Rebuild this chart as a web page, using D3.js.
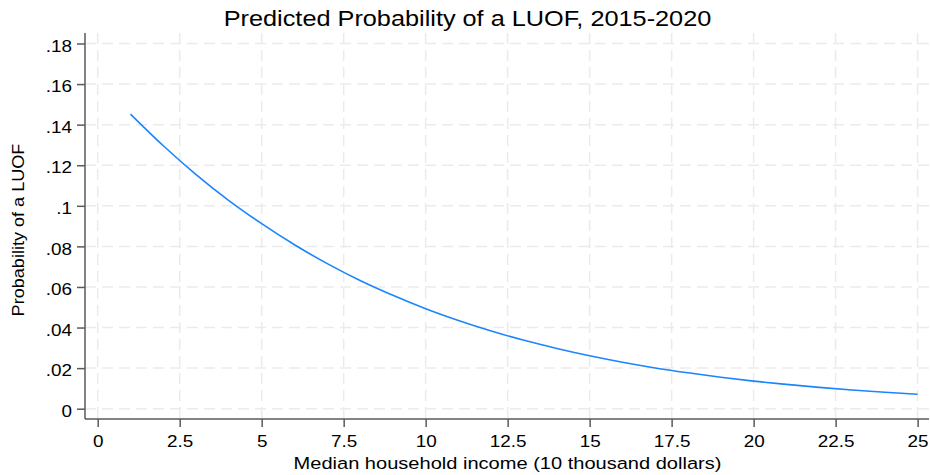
<!DOCTYPE html>
<html>
<head>
<meta charset="utf-8">
<script src="https://cdn.jsdelivr.net/npm/d3@7"></script>
<style>
  html, body { margin: 0; padding: 0; background: #fff; }
  svg { display: block; }
  text { font-family: "Liberation Sans", Arial, sans-serif; fill: #000; }
</style>
</head>
<body>
<svg id="chart" width="930" height="475"></svg>
<script>
// ---- data ----
const income = [1,2,3,4,5,6,7,8,9,10,11,12,13,14,15,16,17,18,19,20,21,22,23,24,25];
const probability = [0.1452,0.1296,0.1154,0.1026,0.0912,0.0808,0.0715,0.0632,0.0559,0.0493,
                     0.0435,0.0383,0.0337,0.0297,0.0261,0.0229,0.0201,0.0177,0.0155,0.0136,
                     0.0120,0.0105,0.0092,0.0081,0.0071];
const xTicks = [0,2.5,5,7.5,10,12.5,15,17.5,20,22.5,25];
const xTickLabels = ["0","2.5","5","7.5","10","12.5","15","17.5","20","22.5","25"];
const yTicks = [0,0.02,0.04,0.06,0.08,0.10,0.12,0.14,0.16,0.18];
const yTickLabels = ["0",".02",".04",".06",".08",".1",".12",".14",".16",".18"];
const title = "Predicted Probability of a LUOF, 2015-2020";
const xTitle = "Median household income (10 thousand dollars)";
const yTitle = "Probability of a LUOF";

// ---- layout ----
const svg = d3.select("#chart");
const plot = {left: 85, right: 929, top: 33, bottom: 419};
const x = d3.scaleLinear().domain([0, 25]).range([97.7, 917.6]);
const y = d3.scaleLinear().domain([0, 0.18]).range([408.7, 43.5]);

const axisColor = "#5a5a5a";
const gridColor = "#ebebeb";
const stretch = 1.18;   // reference glyphs are wider than Liberation Sans

// grid
const grid = svg.append("g");
grid.selectAll("line.h").data(yTicks).join("line")
  .attr("x1", plot.left).attr("x2", plot.right)
  .attr("y1", d => y(d)).attr("y2", d => y(d))
  .attr("stroke", gridColor).attr("stroke-width", 1.5)
  .attr("stroke-dasharray", "11,6");
grid.selectAll("line.v").data(xTicks).join("line")
  .attr("y1", plot.top).attr("y2", plot.bottom)
  .attr("x1", d => x(d)).attr("x2", d => x(d))
  .attr("stroke", gridColor).attr("stroke-width", 1.5)
  .attr("stroke-dasharray", "11,6");

// axes
const xAxis = d3.axisBottom(x).tickValues(xTicks)
  .tickFormat((d, i) => xTickLabels[i]).tickSize(8).tickSizeOuter(0).tickPadding(8.5);
const gx = svg.append("g").attr("transform", `translate(0,${plot.bottom})`).call(xAxis);
gx.select(".domain").attr("d", `M${plot.left},0H${plot.right}`);

const yAxis = d3.axisLeft(y).tickValues(yTicks)
  .tickFormat((d, i) => yTickLabels[i]).tickSize(8).tickSizeOuter(0).tickPadding(5);
const gy = svg.append("g").attr("transform", `translate(${plot.left},0)`).call(yAxis);
gy.select(".domain").attr("d", `M0,${plot.top}V${plot.bottom}`);

[gx, gy].forEach(g => {
  g.select(".domain").attr("stroke", axisColor).attr("stroke-width", 1.5);
  g.selectAll(".tick line").attr("stroke", axisColor).attr("stroke-width", 1.5);
  g.selectAll(".tick text").attr("font-size", 16)
    .attr("font-family", "'Liberation Sans', Arial, sans-serif").attr("fill", "#000");
});
gx.selectAll(".tick text").attr("transform", `scale(${stretch},1)`);
gy.selectAll(".tick text")
  .attr("x", -13 / stretch)
  .attr("dy", "0.48em")
  .attr("transform", `scale(${stretch},1)`);

// line
const line = d3.line()
  .x((d, i) => x(income[i]))
  .y(d => y(d))
  .curve(d3.curveMonotoneX);
svg.append("path").datum(probability)
  .attr("d", line)
  .attr("fill", "none")
  .attr("stroke", "#1a85ff")
  .attr("stroke-width", 1.6);

// titles
svg.append("text").attr("transform", "translate(467.5,26) scale(1.15,1)")
  .attr("text-anchor", "middle").attr("font-size", 22).text(title);
svg.append("text").attr("transform", `translate(507.5,469) scale(${stretch},1)`)
  .attr("text-anchor", "middle").attr("font-size", 17).text(xTitle);
svg.append("text").attr("transform", "translate(24,230) rotate(-90) scale(1.13,1)")
  .attr("text-anchor", "middle").attr("font-size", 16).text(yTitle);
</script>
</body>
</html>
